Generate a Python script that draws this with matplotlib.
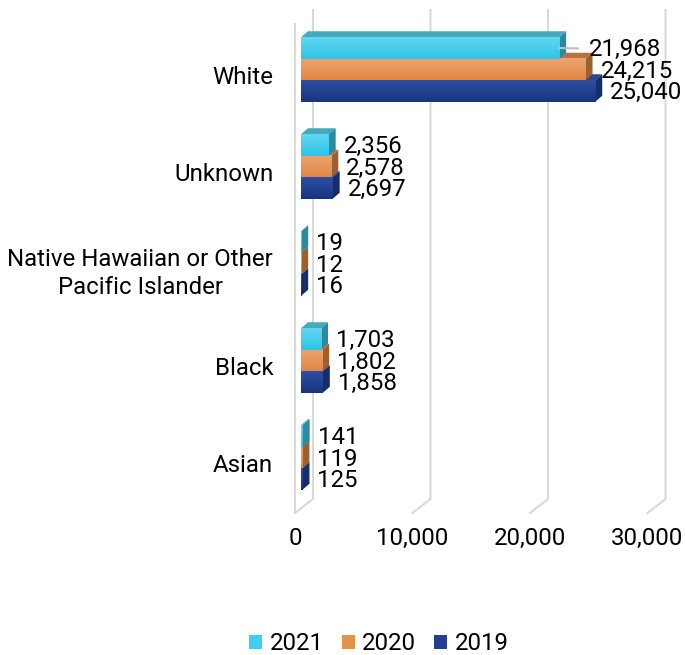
import numpy as np
import matplotlib
matplotlib.use("Agg")
import matplotlib.pyplot as plt
from matplotlib.patches import Polygon, Patch
from matplotlib.colors import LinearSegmentedColormap
from matplotlib.transforms import ScaledTranslation
from matplotlib.ticker import FuncFormatter

plt.rcParams['font.family'] = ['Roboto', 'DejaVu Sans']
plt.rcParams['font.size'] = 17.3

categories = ['White', 'Unknown', 'Native Hawaiian or Other\nPacific Islander', 'Black', 'Asian']
years = ['2021', '2020', '2019']
counts_2021 = [21968, 2356, 19, 1703, 141]
counts_2020 = [24215, 2578, 12, 1802, 119]
counts_2019 = [25040, 2697, 16, 1858, 125]
x_ticks = [0, 10000, 20000, 30000]

# front gradient (top, bottom), top face, side face, legend swatch
styles = {
    '2021': dict(front=('#62d7f0', '#2cc5e9'), top='#45a9bd', side='#2a8b9e', legend='#3fcfee'),
    '2020': dict(front=('#eda46e', '#df8747'), top='#b67242', side='#9c5f2e', legend='#e6924f'),
    '2019': dict(front=('#2e4fa2', '#17347e'), top='#2b4690', side='#152e69', legend='#22408f'),
}

fig = plt.figure(figsize=(6.85, 6.55), dpi=100)
ax = fig.add_axes([301 / 685, 1 - 506 / 655, 352.5 / 685, 485 / 655])
ax.set_xlim(0, 30000)
ax.set_ylim(4.5, -0.5)

# pixel sizes in data units, used for the fake 3d depth
px_x = 30000 / 352.5
px_y = 5 / 485


def row(py):
    # figure pixel row -> category units
    return -0.5 + (py - 21) * px_y


# walls: back grid lines bending forward onto the floor
for v in x_ticks:
    xb = v + 12 * px_x
    xf = v - 6 * px_x
    ax.plot([xb, xb, xf], [row(10), row(499), row(513)], color='#d9d9d9', lw=1.5,
            clip_on=False, zorder=0)
ax.plot([-6 * px_x] * 2, [row(24), row(513)], color='#d9d9d9', lw=1.5, clip_on=False, zorder=0)

bar_h = 21.5 * px_y
dx = 7 * px_x
dy = 6 * px_y
series = [('2019', counts_2019, bar_h), ('2020', counts_2020, 0.0), ('2021', counts_2021, -bar_h)]
grad = np.linspace(0, 1, 32).reshape(-1, 1)

for k, (year, vals, off) in enumerate(series):
    st = styles[year]
    cmap = LinearSegmentedColormap.from_list('g' + year, st['front'])
    z = 2 + k * 3
    for i, v in enumerate(vals):
        top = i + off - bar_h / 2
        bot = i + off + bar_h / 2
        ax.add_patch(Polygon([(0, top), (v, top), (v + dx, top - dy), (dx, top - dy)],
                             closed=True, fc=st['top'], ec='none', zorder=z))
        ax.add_patch(Polygon([(v, top), (v, bot), (v + dx, bot - dy), (v + dx, top - dy)],
                             closed=True, fc=st['side'], ec='none', zorder=z + 1))
        ax.imshow(grad, cmap=cmap, extent=(0, v, bot, top), aspect='auto', origin='upper',
                  interpolation='bilinear', zorder=z + 2)

        if year == '2021' and i == 0:
            # label pushed past the longer bar below, with a leader line
            ax.annotate(f'{v:,}', xy=(v, i + off), xytext=(30, -1.5), textcoords='offset pixels',
                        va='center', ha='left', zorder=20,
                        arrowprops=dict(arrowstyle='-', color='#bfbfbf', lw=1.5,
                                        shrinkA=6, shrinkB=0))
        else:
            ax.annotate(f'{v:,}', xy=(v, i + off), xytext=(15, -1.5), textcoords='offset pixels',
                        va='center', ha='left', zorder=20)

ax.set_xlim(0, 30000)
ax.set_ylim(4.5, -0.5)

ax.set_xticks(x_ticks)
ax.xaxis.set_major_formatter(FuncFormatter(lambda x, pos: f'{int(x):,}'))
ax.set_yticks(range(len(categories)))
ax.set_yticklabels(categories)
ax.tick_params(axis='x', length=0, pad=15)
ax.tick_params(axis='y', length=0, pad=20)
for lab in ax.get_xticklabels():
    lab.set_transform(lab.get_transform() + ScaledTranslation(-6 / 100, 0, fig.dpi_scale_trans))
for lab in ax.get_yticklabels():
    lab.set_multialignment('center')
    lab.set_linespacing(1.25)
    lab.set_transform(lab.get_transform() + ScaledTranslation(0, -5.5 / 100, fig.dpi_scale_trans))

for s in ax.spines.values():
    s.set_visible(False)
ax.set_facecolor('none')

handles = [Patch(fc=styles[y]['legend'], ec='none') for y in years]
fig.legend(handles, years, loc='center', bbox_to_anchor=(0.553, 0.017), ncol=3, frameon=False,
           handlelength=0.55, handleheight=0.55, handletextpad=0.3, columnspacing=0.75,
           borderaxespad=0, fontsize=17.3)

fig.savefig('out.png', dpi=100)
